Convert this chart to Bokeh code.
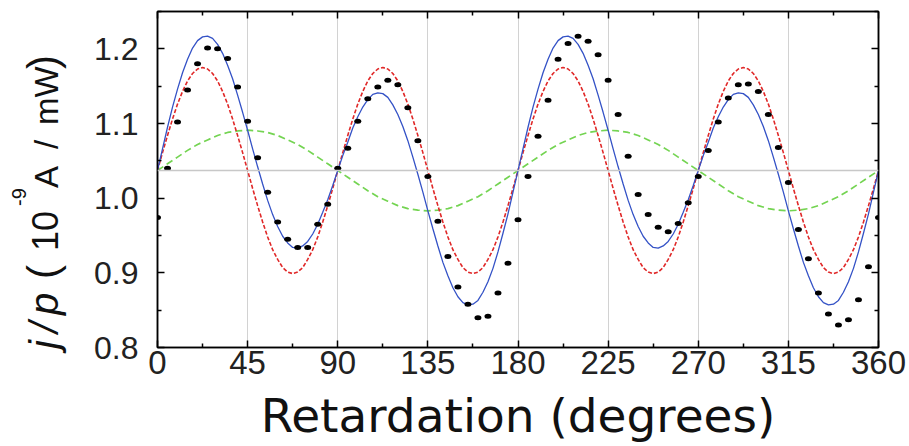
import math
from bokeh.plotting import figure
from bokeh.layouts import row
from bokeh.models import LinearAxis, FixedTicker, NumeralTickFormatter, Span, Range1d, Div
from bokeh.embed import file_html
from bokeh.resources import INLINE

# ---------------- data ----------------
x_major_ticks = [0, 45, 90, 135, 180, 225, 270, 315, 360]
x_minor_ticks = [22.5, 67.5, 112.5, 157.5, 202.5, 247.5, 292.5, 337.5]
y_major_ticks = [0.8, 0.9, 1.0, 1.1, 1.2]
y_minor_ticks = [0.85, 0.95, 1.05, 1.15, 1.25]
x_grid_lines = [45, 90, 135, 180, 225, 270, 315]
baseline_level = 1.037

# measured points, every 5 degrees
meas_deg = list(range(0, 365, 5))
meas_val = [0.974, 1.040, 1.102, 1.145, 1.180, 1.201, 1.200, 1.187, 1.149, 1.103,
            1.054, 1.008, 0.968, 0.945, 0.934, 0.934, 0.965, 0.992, 1.040, 1.067,
            1.103, 1.133, 1.149, 1.158, 1.152, 1.121, 1.077, 1.029, 0.969, 0.922,
            0.881, 0.858, 0.840, 0.842, 0.873, 0.913, 0.971, 1.029, 1.083, 1.131,
            1.186, 1.207, 1.217, 1.210, 1.192, 1.158, 1.112, 1.056, 1.005, 0.978,
            0.961, 0.955, 0.966, 0.994, 1.029, 1.064, 1.102, 1.134, 1.152, 1.153,
            1.143, 1.112, 1.068, 1.021, 0.958, 0.919, 0.873, 0.845, 0.830, 0.837,
            0.864, 0.908, 0.974]

# fitted curves, every 2.5 degrees
fit_deg = [i * 2.5 for i in range(145)]
blue_fit = [1.037, 1.066, 1.095, 1.122, 1.146, 1.168, 1.186, 1.201, 1.211, 1.216,
            1.217, 1.214, 1.206, 1.194, 1.178, 1.160, 1.138, 1.115, 1.091, 1.066,
            1.042, 1.019, 0.997, 0.978, 0.962, 0.949, 0.940, 0.934, 0.933, 0.936,
            0.942, 0.952, 0.965, 0.981, 0.998, 1.017, 1.037, 1.057, 1.075, 1.094,
            1.109, 1.122, 1.132, 1.139, 1.141, 1.140, 1.135, 1.125, 1.112, 1.096,
            1.077, 1.055, 1.032, 1.008, 0.983, 0.959, 0.936, 0.914, 0.896, 0.880,
            0.868, 0.860, 0.857, 0.858, 0.863, 0.874, 0.888, 0.906, 0.928, 0.953,
            0.979, 1.008, 1.037,
            1.066, 1.095, 1.122, 1.146, 1.168, 1.186, 1.201, 1.211, 1.216,
            1.217, 1.214, 1.206, 1.194, 1.178, 1.160, 1.138, 1.115, 1.091, 1.066,
            1.042, 1.019, 0.997, 0.978, 0.962, 0.949, 0.940, 0.934, 0.933, 0.936,
            0.942, 0.952, 0.965, 0.981, 0.998, 1.017, 1.037, 1.057, 1.075, 1.094,
            1.109, 1.122, 1.132, 1.139, 1.141, 1.140, 1.135, 1.125, 1.112, 1.096,
            1.077, 1.055, 1.032, 1.008, 0.983, 0.959, 0.936, 0.914, 0.896, 0.880,
            0.868, 0.860, 0.857, 0.858, 0.863, 0.874, 0.888, 0.906, 0.928, 0.953,
            0.979, 1.008, 1.037]
red_fit = [1.037, 1.061, 1.084, 1.106, 1.126, 1.143, 1.157, 1.167, 1.173, 1.175,
           1.173, 1.167, 1.157, 1.143, 1.126, 1.106, 1.084, 1.061, 1.037, 1.013,
           0.990, 0.968, 0.948, 0.931, 0.918, 0.907, 0.901, 0.899, 0.901, 0.907,
           0.918, 0.931, 0.948, 0.968, 0.990, 1.013,
           1.037, 1.061, 1.084, 1.106, 1.126, 1.143, 1.157, 1.167, 1.173, 1.175,
           1.173, 1.167, 1.157, 1.143, 1.126, 1.106, 1.084, 1.061, 1.037, 1.013,
           0.990, 0.968, 0.948, 0.931, 0.918, 0.907, 0.901, 0.899, 0.901, 0.907,
           0.918, 0.931, 0.948, 0.968, 0.990, 1.013,
           1.037, 1.061, 1.084, 1.106, 1.126, 1.143, 1.157, 1.167, 1.173, 1.175,
           1.173, 1.167, 1.157, 1.143, 1.126, 1.106, 1.084, 1.061, 1.037, 1.013,
           0.990, 0.968, 0.948, 0.931, 0.918, 0.907, 0.901, 0.899, 0.901, 0.907,
           0.918, 0.931, 0.948, 0.968, 0.990, 1.013,
           1.037, 1.061, 1.084, 1.106, 1.126, 1.143, 1.157, 1.167, 1.173, 1.175,
           1.173, 1.167, 1.157, 1.143, 1.126, 1.106, 1.084, 1.061, 1.037, 1.013,
           0.990, 0.968, 0.948, 0.931, 0.918, 0.907, 0.901, 0.899, 0.901, 0.907,
           0.918, 0.931, 0.948, 0.968, 0.990, 1.013,
           1.037]
green_deg = list(range(0, 365, 5))
green_fit = [1.037, 1.046, 1.055, 1.064, 1.072, 1.078, 1.084, 1.088, 1.090, 1.091,
             1.090, 1.088, 1.084, 1.078, 1.072, 1.064, 1.055, 1.046, 1.037, 1.028,
             1.019, 1.010, 1.002, 0.996, 0.990, 0.986, 0.984, 0.983, 0.984, 0.986,
             0.990, 0.996, 1.002, 1.010, 1.019, 1.028,
             1.037, 1.046, 1.055, 1.064, 1.072, 1.078, 1.084, 1.088, 1.090, 1.091,
             1.090, 1.088, 1.084, 1.078, 1.072, 1.064, 1.055, 1.046, 1.037, 1.028,
             1.019, 1.010, 1.002, 0.996, 0.990, 0.986, 0.984, 0.983, 0.984, 0.986,
             0.990, 0.996, 1.002, 1.010, 1.019, 1.028,
             1.037]

x_label_text = "Retardation (degrees)"
y_label_parts = ["j/p", "(", "10", "-9", "A", "/", "mW", ")"]

TOTAL_H = 446
LABEL_W = 80
MAIN_W = 828

# ---------------- main figure ----------------
p = figure(width=MAIN_W, height=TOTAL_H, output_backend="svg", toolbar_location=None,
           x_range=Range1d(0, 360), y_range=Range1d(0.8, 1.25),
           min_border_left=77, min_border_right=30, min_border_top=11, min_border_bottom=99)
p.background_fill_color = "white"
p.border_fill_color = "white"
p.outline_line_color = "black"
p.outline_line_width = 1.5

p.xgrid.ticker = FixedTicker(ticks=x_grid_lines)
p.xgrid.grid_line_color = "#d2d2d2"
p.xgrid.grid_line_width = 1
p.ygrid.visible = False


def style_axis(ax, major, minor, show, size, standoff):
    ax.ticker = FixedTicker(ticks=major, minor_ticks=minor)
    ax.axis_line_color = "black"
    ax.axis_line_width = 1.5
    ax.major_tick_in = 7
    ax.major_tick_out = 0
    ax.minor_tick_in = 4
    ax.minor_tick_out = 0
    ax.major_tick_line_color = "black"
    ax.major_tick_line_width = 1.5
    ax.minor_tick_line_color = "black"
    ax.minor_tick_line_width = 1.5
    ax.major_label_text_font = "Liberation Sans"
    ax.major_label_standoff = standoff
    ax.major_label_text_font_size = size
    if show:
        ax.major_label_text_color = "#222222"
    else:
        ax.major_label_text_color = None
        ax.major_label_text_alpha = 0


xa = p.xaxis[0]
style_axis(xa, x_major_ticks, x_minor_ticks, True, "33px", 3)
xa.axis_label = x_label_text
xa.axis_label_text_font = "DejaVu Sans"
xa.axis_label_text_font_size = "47px"
xa.axis_label_text_font_style = "normal"
xa.axis_label_text_color = "#111111"
xa.axis_label_standoff = 11

ya = p.yaxis[0]
style_axis(ya, y_major_ticks, y_minor_ticks, True, "32px", 19)
ya.formatter = NumeralTickFormatter(format="0.0")

top = LinearAxis()
style_axis(top, x_major_ticks, x_minor_ticks, False, "8px", 0)
p.add_layout(top, "above")
right = LinearAxis()
style_axis(right, y_major_ticks, y_minor_ticks, False, "8px", 0)
p.add_layout(right, "right")

p.add_layout(Span(location=baseline_level, dimension="width",
                  line_color="#c8c8c8", line_width=1.5))

p.line(green_deg, green_fit, line_color="#74d452", line_width=1.7, line_dash="7 4")
p.line(fit_deg, red_fit, line_color="#e02828", line_width=1.6, line_dash="4 2")
p.line(fit_deg, blue_fit, line_color="#3452c6", line_width=1.3)
p.ellipse(meas_deg, meas_val, width=7, height=5, width_units="screen",
          height_units="screen", fill_color="black", line_color=None)

# ---------------- rotated y-axis title (HTML) ----------------
# per part: baseline x, start y (page px, text runs upward), font size, style
part_base_x = [58, 58, 58, 26, 58, 58, 58, 58]
part_start_y = [349, 279, 251, 206, 188, 149, 125, 69]
part_size = [40, 42, 36, 20, 33, 33, 33, 42]
part_style = ["italic", "normal", "normal", "normal", "normal", "normal", "normal", "normal"]
part_spacing = [7, 0, 0, 0, 0, 0, 0, 0]

pieces = []
for i, txt in enumerate(y_label_parts):
    fs = part_size[i]
    left = part_base_x[i] - 0.3465 * fs
    pieces.append(
        '<div style="position:absolute;left:%.1fpx;top:%dpx;transform:rotate(-90deg);'
        'transform-origin:0 0;white-space:nowrap;line-height:0;'
        'font-family:\'Liberation Sans\';font-size:%dpx;font-style:%s;'
        'letter-spacing:%dpx;color:#111111;">%s</div>'
        % (left, part_start_y[i], fs, part_style[i], part_spacing[i], txt))
html = ('<div style="position:relative;width:%dpx;height:%dpx;overflow:visible;">%s</div>'
        % (LABEL_W, TOTAL_H, "".join(pieces)))
title_div = Div(text=html, width=LABEL_W, height=TOTAL_H, margin=0)

layout = row(title_div, p)
open("out.html", "w").write(file_html(layout, INLINE))
